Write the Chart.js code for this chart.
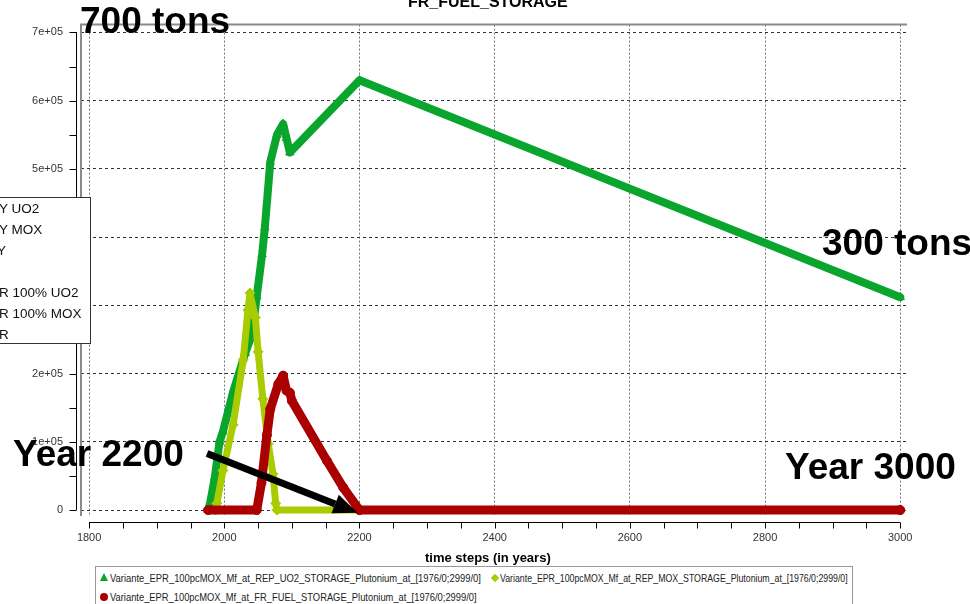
<!DOCTYPE html>
<html>
<head>
<meta charset="utf-8">
<script src="https://cdn.jsdelivr.net/npm/chart.js@4"></script>
<style>
  body { margin: 0; background: #fff; }
  #wrap { position: relative; width: 970px; height: 604px; overflow: hidden; background: #fff;
          font-family: "Liberation Sans", Arial, sans-serif; }
  #c { position: absolute; left: 0; top: 0; }
  .txt { position: absolute; white-space: nowrap; line-height: 1; color: #000; }
  .big { font-size: 37px; font-weight: bold; }
  #sideBox { position: absolute; left: -10px; top: 197px; width: 101px; height: 147px;
             box-sizing: border-box; border: 1px solid #333; background: #fff; }
  .side { position: absolute; left: -1px; font-size: 13.5px; line-height: 21px; white-space: nowrap; color: #111; }
  #legendBox { position: absolute; left: 95px; top: 566px; width: 758px; height: 50px;
               box-sizing: border-box; border: 1px solid #999; background: #fff; }
  .leg { position: absolute; font-size: 11px; line-height: 1; white-space: nowrap; color: #222;
         transform-origin: 0 0; }
  .mk { position: absolute; }
</style>
</head>
<body>
<div id="wrap">
  <canvas id="c" width="970" height="604"></canvas>

  <div class="txt" style="left:408px; top:-6.5px; font-size:16px; font-weight:bold;">FR_FUEL_STORAGE</div>
  <div class="txt big" style="left:80px; top:1.7px;">700 tons</div>
  <div class="txt big" style="left:822px; top:223.7px;">300 tons</div>
  <div class="txt big" style="left:13px; top:434.7px;">Year 2200</div>
  <div class="txt big" style="left:785px; top:447.7px;">Year 3000</div>
  <div class="txt" style="left:425px; top:551px; font-size:13px; font-weight:bold;">time steps (in years)</div>

  <div id="sideBox"></div>
  <div class="side" style="top:198px;">Y UO2</div>
  <div class="side" style="top:219px;">Y MOX</div>
  <div class="side" style="top:240px; left:-3px;">Y</div>
  <div class="side" style="top:282px;">R 100% UO2</div>
  <div class="side" style="top:303px;">R 100% MOX</div>
  <div class="side" style="top:324px;">R</div>

  <div id="legendBox"></div>
  <div class="mk" style="left:100px; top:573px; width:0; height:0; border-left:4px solid transparent; border-right:4px solid transparent; border-bottom:8px solid #0aa52c;"></div>
  <div class="leg" style="left:110px; top:573px; transform:scaleX(0.855);">Variante_EPR_100pcMOX_Mf_at_REP_UO2_STORAGE_Plutonium_at_[1976/0;2999/0]</div>
  <div class="mk" style="left:492px; top:575px; width:6px; height:6px; background:#a8cc00; transform:rotate(45deg);"></div>
  <div class="leg" style="left:500px; top:573px; transform:scaleX(0.797);">Variante_EPR_100pcMOX_Mf_at_REP_MOX_STORAGE_Plutonium_at_[1976/0;2999/0]</div>
  <div class="mk" style="left:100px; top:593px; width:8px; height:8px; border-radius:50%; background:#aa0000;"></div>
  <div class="leg" style="left:110px; top:592px; transform:scaleX(0.85);">Variante_EPR_100pcMOX_Mf_at_FR_FUEL_STORAGE_Plutonium_at_[1976/0;2999/0]</div>
</div>

<script>
// axis ticks
const xTicks = [1800, 2000, 2200, 2400, 2600, 2800, 3000];
const yTicks = [0, 100000, 200000, 300000, 400000, 500000, 600000, 700000];
const yTickLabels = ['0', '1e+05', '2e+05', '3e+05', '4e+05', '5e+05', '6e+05', '7e+05'];

// plutonium in UO2 storage
const uo2Years = [1976, 1979, 1986, 1993, 1998, 2013, 2031, 2041, 2048, 2056, 2060, 2068, 2078, 2087, 2092, 2097, 2200, 3000];
const uo2Values = [0, 10000, 48000, 100000, 115000, 173000, 230000, 257000, 313000, 375000, 414000, 510000, 550000, 566000, 545000, 524000, 630000, 312000];

// plutonium in MOX storage
const moxYears = [1987, 1989, 1998, 2013, 2028, 2035, 2038, 2046, 2050, 2057, 2065, 2072, 2076, 2078, 2200, 3000];
const moxValues = [0, 10000, 58000, 125000, 220000, 293000, 318000, 282000, 232000, 163000, 97000, 53000, 10000, 0, 0, 0];

// plutonium in FR fuel storage
const frYears = [1976, 2048, 2055, 2063, 2068, 2080, 2087, 2092, 2097, 2100, 2152, 2176, 2200, 3000];
const frValues = [0, 0, 40000, 110000, 148000, 185000, 197000, 175000, 172000, 160000, 72000, 33000, 0, 0];

const toPoints = (xs, ys) => xs.map((x, i) => ({ x: x, y: ys[i] }));

// offset axes, frame and the "Year 2200" arrow
const extras = {
  id: 'extras',
  beforeDatasetsDraw(chart) {
    const { ctx, chartArea: a } = chart;
    ctx.save();
    ctx.strokeStyle = '#8a8a8a';
    ctx.lineWidth = 2;
    ctx.beginPath();
    ctx.moveTo(a.left, a.bottom);
    ctx.lineTo(a.left, a.top);
    ctx.lineTo(a.right, a.top);
    ctx.stroke();
    ctx.restore();
  },
  afterDraw(chart) {
    const { ctx } = chart;
    const xs = chart.scales.x, ys = chart.scales.y;
    ctx.save();
    ctx.strokeStyle = '#000';
    ctx.lineWidth = 1;

    // x axis below the plot
    const ax = 522.5;
    ctx.beginPath();
    ctx.moveTo(Math.round(xs.getPixelForValue(1800)), ax);
    ctx.lineTo(Math.round(xs.getPixelForValue(3000)), ax);
    for (let v = 1800; v <= 3000; v += 50) {
      const px = Math.round(xs.getPixelForValue(v)) + 0.5;
      ctx.moveTo(px, ax);
      ctx.lineTo(px, ax + 6);
    }
    ctx.stroke();

    // y axis left of the plot
    const ay = 76.5;
    ctx.beginPath();
    ctx.moveTo(ay, Math.round(ys.getPixelForValue(700000)));
    ctx.lineTo(ay, Math.round(ys.getPixelForValue(0)));
    for (let v = 0; v <= 700000; v += 50000) {
      const py = Math.round(ys.getPixelForValue(v)) + 0.5;
      ctx.moveTo(ay, py);
      ctx.lineTo(ay - 7, py);
    }
    ctx.stroke();

    // arrow pointing at the year 2200
    const x0 = xs.getPixelForValue(1974.5), y0 = ys.getPixelForValue(83000);
    const x1 = xs.getPixelForValue(2197), y1 = ys.getPixelForValue(-4000);
    const ang = Math.atan2(y1 - y0, x1 - x0);
    const headLen = 24, headW = 10;
    const bx = x1 - headLen * Math.cos(ang), by = y1 - headLen * Math.sin(ang);
    ctx.strokeStyle = '#000';
    ctx.lineWidth = 7;
    ctx.beginPath();
    ctx.moveTo(x0, y0);
    ctx.lineTo(bx, by);
    ctx.stroke();
    ctx.fillStyle = '#000';
    ctx.beginPath();
    ctx.moveTo(x1, y1);
    ctx.lineTo(bx + headW * Math.sin(ang), by - headW * Math.cos(ang));
    ctx.lineTo(bx - headW * Math.sin(ang), by + headW * Math.cos(ang));
    ctx.closePath();
    ctx.fill();
    ctx.restore();
  }
};

new Chart(document.getElementById('c'), {
  type: 'scatter',
  data: {
    datasets: [
      {
        label: 'Variante_EPR_100pcMOX_Mf_at_FR_FUEL_STORAGE_Plutonium_at_[1976/0;2999/0]',
        data: toPoints(frYears, frValues),
        showLine: true,
        borderColor: '#aa0000',
        backgroundColor: '#aa0000',
        borderWidth: 9,
        pointStyle: 'circle',
        pointRadius: 4.5,
        pointBorderWidth: 1,
        borderCapStyle: 'round',
        borderJoinStyle: 'round',
        order: 0
      },
      {
        label: 'Variante_EPR_100pcMOX_Mf_at_REP_MOX_STORAGE_Plutonium_at_[1976/0;2999/0]',
        data: toPoints(moxYears, moxValues),
        showLine: true,
        borderColor: '#a8cc00',
        backgroundColor: '#a8cc00',
        borderWidth: 7,
        pointStyle: 'rectRot',
        pointRadius: 5,
        pointBorderWidth: 1,
        borderCapStyle: 'round',
        borderJoinStyle: 'round',
        order: 1
      },
      {
        label: 'Variante_EPR_100pcMOX_Mf_at_REP_UO2_STORAGE_Plutonium_at_[1976/0;2999/0]',
        data: toPoints(uo2Years, uo2Values),
        showLine: true,
        borderColor: '#0aa52c',
        backgroundColor: '#0aa52c',
        borderWidth: 8,
        pointStyle: 'triangle',
        pointRadius: 4.8,
        pointBorderWidth: 1,
        borderCapStyle: 'round',
        borderJoinStyle: 'round',
        order: 2
      }
    ]
  },
  options: {
    responsive: false,
    animation: false,
    layout: { padding: { top: 17, right: 63, left: 0, bottom: 0 } },
    plugins: {
      legend: { display: false },
      tooltip: { enabled: false }
    },
    scales: {
      x: {
        type: 'linear',
        min: 1788,
        max: 3010,
        afterBuildTicks: (s) => { s.ticks = xTicks.map(v => ({ value: v })); },
        afterFit: (s) => { s.height = 88; },
        ticks: {
          padding: 15,
          maxRotation: 0,
          color: '#333',
          font: { family: 'Liberation Sans', size: 11 },
          callback: (v) => String(v)
        },
        grid: { color: '#777', drawTicks: false, lineWidth: 1 },
        border: { display: false, dash: [2, 2] }
      },
      y: {
        type: 'linear',
        min: -8700,
        max: 711500,
        afterBuildTicks: (s) => { s.ticks = yTicks.map(v => ({ value: v })); },
        afterFit: (s) => { s.width = 81; },
        ticks: {
          padding: 18,
          color: '#333',
          font: { family: 'Liberation Sans', size: 11 },
          callback: (v) => yTickLabels[yTicks.indexOf(v)]
        },
        grid: { color: '#333', drawTicks: false, lineWidth: 1 },
        border: { display: false, dash: [3, 3] }
      }
    }
  },
  plugins: [extras]
});
</script>
</body>
</html>
